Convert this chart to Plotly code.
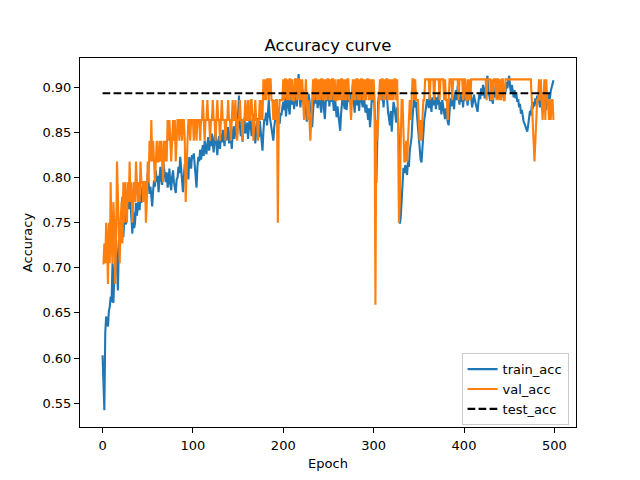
"""Accuracy curve."""
import plotly.graph_objects as go

# train accuracy per epoch
train_acc = [
    0.603, 0.560, 0.542, 0.628, 0.646, 0.640, 0.635, 0.652, 0.657, 0.668, 0.662, 0.705, 0.661, 0.690, 0.712, 0.731, 0.700, 0.675, 0.722, 0.749,
    0.728, 0.742, 0.779, 0.734, 0.752, 0.760, 0.748, 0.771, 0.783, 0.765, 0.779, 0.770, 0.757, 0.738, 0.762, 0.744, 0.750, 0.772, 0.758, 0.766,
    0.776, 0.764, 0.781, 0.772, 0.790, 0.784, 0.778, 0.795, 0.775, 0.788, 0.805, 0.794, 0.782, 0.790, 0.776, 0.768, 0.786, 0.797, 0.790, 0.808,
    0.795, 0.802, 0.784, 0.800, 0.812, 0.798, 0.792, 0.818, 0.811, 0.803, 0.795, 0.806, 0.789, 0.797, 0.810, 0.792, 0.786, 0.801, 0.808, 0.795,
    0.790, 0.783, 0.798, 0.800, 0.812, 0.805, 0.823, 0.809, 0.795, 0.784, 0.801, 0.815, 0.808, 0.819, 0.812, 0.798, 0.823, 0.816, 0.810, 0.825,
    0.821, 0.827, 0.815, 0.806, 0.789, 0.812, 0.823, 0.818, 0.831, 0.820, 0.827, 0.836, 0.824, 0.841, 0.832, 0.826, 0.838, 0.845, 0.830, 0.842,
    0.835, 0.849, 0.838, 0.828, 0.845, 0.851, 0.836, 0.825, 0.840, 0.846, 0.832, 0.848, 0.839, 0.853, 0.844, 0.835, 0.850, 0.841, 0.847, 0.856,
    0.838, 0.852, 0.845, 0.832, 0.848, 0.857, 0.843, 0.851, 0.862, 0.848, 0.872, 0.891, 0.858, 0.846, 0.853, 0.840, 0.858, 0.866, 0.849, 0.855,
    0.861, 0.843, 0.852, 0.868, 0.857, 0.846, 0.862, 0.871, 0.855, 0.838, 0.850, 0.866, 0.858, 0.845, 0.863, 0.848, 0.839, 0.830, 0.851, 0.865,
    0.864, 0.872, 0.858, 0.875, 0.886, 0.868, 0.860, 0.852, 0.847, 0.841, 0.856, 0.866, 0.874, 0.862, 0.878, 0.861, 0.860, 0.872, 0.869, 0.878,
    0.884, 0.875, 0.889, 0.868, 0.882, 0.893, 0.879, 0.870, 0.886, 0.895, 0.881, 0.890, 0.876, 0.898, 0.887, 0.879, 0.901, 0.915, 0.890, 0.878,
    0.892, 0.884, 0.897, 0.873, 0.889, 0.868, 0.862, 0.880, 0.893, 0.886, 0.871, 0.878, 0.856, 0.874, 0.889, 0.897, 0.882, 0.891, 0.877, 0.886,
    0.894, 0.880, 0.872, 0.888, 0.899, 0.876, 0.865, 0.883, 0.892, 0.885, 0.898, 0.879, 0.890, 0.884, 0.903, 0.887, 0.874, 0.892, 0.881, 0.867,
    0.879, 0.870, 0.858, 0.852, 0.871, 0.888, 0.895, 0.882, 0.876, 0.890, 0.875, 0.886, 0.899, 0.884, 0.893, 0.878, 0.889, 0.903, 0.885, 0.872,
    0.891, 0.880, 0.896, 0.887, 0.874, 0.892, 0.905, 0.883, 0.878, 0.895, 0.886, 0.872, 0.881, 0.868, 0.864, 0.877, 0.856, 0.870, 0.889, 0.884,
    0.893, 0.878, 0.851, 0.794, 0.862, 0.884, 0.893, 0.897, 0.886, 0.899, 0.890, 0.878, 0.895, 0.887, 0.901, 0.882, 0.872, 0.866, 0.858, 0.874,
    0.851, 0.868, 0.884, 0.879, 0.872, 0.861, 0.878, 0.866, 0.842, 0.749, 0.756, 0.781, 0.805, 0.811, 0.805, 0.814, 0.809, 0.803, 0.818, 0.812,
    0.830, 0.838, 0.845, 0.866, 0.886, 0.893, 0.878, 0.884, 0.869, 0.857, 0.842, 0.829, 0.820, 0.817, 0.838, 0.852, 0.864, 0.871, 0.879, 0.886,
    0.886, 0.877, 0.891, 0.882, 0.873, 0.889, 0.880, 0.894, 0.885, 0.876, 0.889, 0.881, 0.893, 0.875, 0.884, 0.870, 0.886, 0.878, 0.872, 0.865,
    0.877, 0.868, 0.862, 0.858, 0.874, 0.888, 0.879, 0.893, 0.884, 0.876, 0.891, 0.897, 0.886, 0.902, 0.889, 0.881, 0.895, 0.884, 0.890, 0.878,
    0.893, 0.885, 0.899, 0.888, 0.880, 0.894, 0.886, 0.897, 0.889, 0.878, 0.884, 0.892, 0.886, 0.882, 0.876, 0.873, 0.884, 0.893, 0.887, 0.899,
    0.891, 0.903, 0.895, 0.888, 0.901, 0.907, 0.913, 0.897, 0.890, 0.885, 0.893, 0.887, 0.882, 0.896, 0.889, 0.903, 0.895, 0.887, 0.899, 0.892,
    0.905, 0.896, 0.889, 0.898, 0.891, 0.902, 0.895, 0.906, 0.899, 0.908, 0.913, 0.901, 0.894, 0.903, 0.896, 0.889, 0.897, 0.888, 0.893, 0.884,
    0.887, 0.878, 0.882, 0.871, 0.875, 0.866, 0.862, 0.860, 0.856, 0.853, 0.851, 0.858, 0.866, 0.874, 0.869, 0.880, 0.876, 0.884, 0.879, 0.888,
    0.882, 0.891, 0.885, 0.886, 0.878, 0.889, 0.883, 0.872, 0.880, 0.876, 0.884, 0.875, 0.888, 0.881, 0.893, 0.887, 0.896, 0.899, 0.904, 0.908,
]

# validation accuracy per epoch
val_acc = [
    0.705, 0.705, 0.727, 0.705, 0.750, 0.727, 0.682, 0.750, 0.705, 0.795, 0.727, 0.705, 0.773, 0.750, 0.682, 0.727, 0.818, 0.773, 0.727, 0.705,
    0.750, 0.773, 0.727, 0.795, 0.750, 0.795, 0.773, 0.750, 0.795, 0.773, 0.818, 0.773, 0.795, 0.750, 0.773, 0.795, 0.773, 0.818, 0.795, 0.773,
    0.795, 0.773, 0.818, 0.795, 0.795, 0.773, 0.795, 0.795, 0.750, 0.773, 0.818, 0.795, 0.841, 0.818, 0.864, 0.818, 0.841, 0.818, 0.795, 0.818,
    0.841, 0.818, 0.818, 0.841, 0.818, 0.841, 0.818, 0.795, 0.841, 0.818, 0.841, 0.818, 0.864, 0.841, 0.864, 0.841, 0.818, 0.841, 0.864, 0.841,
    0.864, 0.818, 0.841, 0.864, 0.864, 0.841, 0.864, 0.864, 0.841, 0.864, 0.864, 0.841, 0.773, 0.818, 0.841, 0.864, 0.864, 0.841, 0.864, 0.864,
    0.864, 0.841, 0.864, 0.864, 0.841, 0.864, 0.864, 0.864, 0.841, 0.864, 0.864, 0.886, 0.864, 0.841, 0.864, 0.864, 0.886, 0.864, 0.864, 0.841,
    0.864, 0.864, 0.886, 0.864, 0.864, 0.841, 0.864, 0.886, 0.864, 0.864, 0.841, 0.864, 0.886, 0.864, 0.864, 0.864, 0.841, 0.864, 0.864, 0.886,
    0.864, 0.864, 0.841, 0.864, 0.886, 0.864, 0.864, 0.886, 0.864, 0.841, 0.864, 0.864, 0.886, 0.864, 0.864, 0.841, 0.864, 0.864, 0.886, 0.864,
    0.864, 0.886, 0.864, 0.864, 0.886, 0.886, 0.864, 0.841, 0.864, 0.886, 0.864, 0.864, 0.841, 0.864, 0.886, 0.864, 0.886, 0.864, 0.909, 0.886,
    0.909, 0.886, 0.909, 0.909, 0.886, 0.909, 0.909, 0.886, 0.886, 0.864, 0.886, 0.864, 0.886, 0.886, 0.750, 0.864, 0.886, 0.886, 0.886, 0.886,
    0.909, 0.886, 0.909, 0.909, 0.886, 0.909, 0.886, 0.909, 0.909, 0.886, 0.909, 0.886, 0.886, 0.909, 0.909, 0.886, 0.909, 0.909, 0.886, 0.909,
    0.886, 0.909, 0.886, 0.864, 0.886, 0.909, 0.886, 0.864, 0.886, 0.864, 0.841, 0.864, 0.886, 0.909, 0.886, 0.909, 0.909, 0.886, 0.909, 0.886,
    0.909, 0.886, 0.909, 0.909, 0.886, 0.909, 0.886, 0.909, 0.886, 0.909, 0.909, 0.886, 0.909, 0.886, 0.909, 0.909, 0.886, 0.909, 0.886, 0.886,
    0.909, 0.886, 0.909, 0.886, 0.909, 0.909, 0.886, 0.909, 0.886, 0.909, 0.886, 0.909, 0.909, 0.886, 0.886, 0.864, 0.886, 0.909, 0.886, 0.909,
    0.886, 0.909, 0.909, 0.886, 0.909, 0.886, 0.909, 0.909, 0.886, 0.909, 0.886, 0.909, 0.886, 0.909, 0.909, 0.886, 0.909, 0.886, 0.909, 0.886,
    0.909, 0.886, 0.659, 0.864, 0.841, 0.864, 0.886, 0.909, 0.886, 0.909, 0.909, 0.886, 0.909, 0.886, 0.909, 0.909, 0.886, 0.909, 0.886, 0.909,
    0.886, 0.909, 0.886, 0.909, 0.909, 0.886, 0.909, 0.864, 0.750, 0.773, 0.841, 0.886, 0.886, 0.841, 0.818, 0.818, 0.841, 0.818, 0.841, 0.864,
    0.886, 0.864, 0.886, 0.909, 0.909, 0.886, 0.909, 0.886, 0.886, 0.886, 0.864, 0.841, 0.864, 0.841, 0.864, 0.886, 0.886, 0.909, 0.909, 0.909,
    0.909, 0.909, 0.886, 0.909, 0.909, 0.909, 0.909, 0.886, 0.909, 0.909, 0.909, 0.909, 0.909, 0.886, 0.909, 0.909, 0.909, 0.909, 0.886, 0.909,
    0.886, 0.886, 0.864, 0.886, 0.909, 0.909, 0.909, 0.886, 0.909, 0.909, 0.909, 0.909, 0.909, 0.909, 0.886, 0.909, 0.909, 0.909, 0.909, 0.886,
    0.909, 0.909, 0.886, 0.886, 0.909, 0.886, 0.909, 0.886, 0.909, 0.909, 0.909, 0.909, 0.909, 0.909, 0.909, 0.909, 0.909, 0.909, 0.909, 0.909,
    0.909, 0.909, 0.909, 0.909, 0.909, 0.886, 0.909, 0.909, 0.909, 0.909, 0.886, 0.909, 0.886, 0.909, 0.909, 0.909, 0.886, 0.909, 0.909, 0.886,
    0.909, 0.886, 0.909, 0.909, 0.886, 0.886, 0.909, 0.909, 0.909, 0.909, 0.909, 0.909, 0.909, 0.909, 0.909, 0.909, 0.909, 0.909, 0.909, 0.909,
    0.909, 0.909, 0.909, 0.909, 0.909, 0.909, 0.909, 0.909, 0.909, 0.909, 0.909, 0.909, 0.909, 0.909, 0.909, 0.886, 0.864, 0.841, 0.818, 0.841,
    0.864, 0.886, 0.886, 0.909, 0.886, 0.909, 0.886, 0.864, 0.886, 0.909, 0.864, 0.909, 0.886, 0.886, 0.864, 0.886, 0.864, 0.886, 0.886, 0.864,
]

test_acc = 0.8936

epochs = list(range(len(train_acc)))
font = 'DejaVu Sans'

data = [
    go.Scatter(x=epochs, y=train_acc, mode='lines', name='train_acc',
               line=dict(color='#1f77b4', width=2.1)),
    go.Scatter(x=list(range(len(val_acc))), y=val_acc, mode='lines', name='val_acc',
               line=dict(color='#ff7f0e', width=2.1)),
    go.Scatter(x=[epochs[0], epochs[-1]], y=[test_acc, test_acc], mode='lines',
               name='test_acc', line=dict(color='black', width=2.1, dash='7.7px,3.3px')),
]

axis = dict(showline=True, linecolor='black', linewidth=1, mirror=True,
            ticks='outside', ticklen=5, tickcolor='black', showgrid=False,
            zeroline=False, automargin=False, tickfont=dict(size=13, color='black'))

# the page body keeps an 8px margin, so the figure is 16px smaller
layout = go.Layout(
    width=624, height=464,
    margin=dict(l=72, r=56, t=50, b=45),
    paper_bgcolor='white', plot_bgcolor='white',
    font=dict(family=font, size=13, color='black'),
    title=dict(text='Accuracy curve', x=0.5, xref='paper', xanchor='center',
               y=1, yref='paper', yanchor='bottom', pad=dict(b=7),
               font=dict(size=16.5, color='black')),
    xaxis=dict(axis, title=dict(text='Epoch', standoff=7, font=dict(size=13)),
               ticklabelstandoff=1,
               range=[-24.95, 523.95], tickvals=[0, 100, 200, 300, 400, 500]),
    yaxis=dict(axis, title=dict(text='Accuracy', standoff=6, font=dict(size=13)),
               range=[0.5235, 0.9327], tickvals=[0.55, 0.60, 0.65, 0.70, 0.75, 0.80, 0.85, 0.90],
               tickformat='.2f'),
    legend=dict(x=0.985, y=0.005, xanchor='right', yanchor='bottom',
                bordercolor='#cccccc', borderwidth=1, bgcolor='rgba(255,255,255,0.8)',
                font=dict(size=13), tracegroupgap=0),
    showlegend=True,
)

fig = go.Figure(data=data, layout=layout)
fig.write_html('out.html')
